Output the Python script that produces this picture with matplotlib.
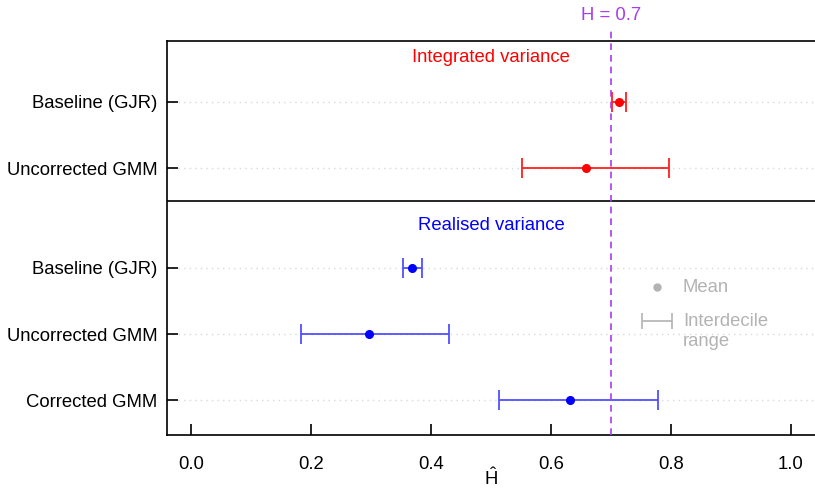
import matplotlib
matplotlib.use("Agg")
import matplotlib.pyplot as plt

plt.rcParams['font.family'] = ['Liberation Sans', 'DejaVu Sans']
plt.rcParams['mathtext.fontset'] = 'custom'
plt.rcParams['mathtext.rm'] = 'Liberation Sans'
plt.rcParams['mathtext.it'] = 'Liberation Sans'

# Data
iv_labels = ["Baseline (GJR)", "Uncorrected GMM"]
iv_mean = [0.714, 0.658]
iv_lo = [0.702, 0.551]
iv_hi = [0.725, 0.797]
iv_pos = [5.5, 4.5]

rv_labels = ["Baseline (GJR)", "Uncorrected GMM", "Corrected GMM"]
rv_mean = [0.369, 0.297, 0.632]
rv_lo = [0.354, 0.183, 0.514]
rv_hi = [0.385, 0.430, 0.779]
rv_pos = [3, 2, 1]

true_h = 0.7
xticks = [0.0, 0.2, 0.4, 0.6, 0.8, 1.0]

fig = plt.figure(figsize=(8.15, 4.88), dpi=100)
ax = fig.add_axes([167/815, 1-435/488, 1-167/815, (435-41)/488])
ax.set_xlim(-0.04, 1.04)
ax.set_ylim(0.477, 6.42)

FS = 13.3
grey = '#b3b3b3'

# grid lines
for y in iv_pos + rv_pos:
    ax.axhline(y, color='#d9d9d9', lw=1, ls=(0, (1, 3)), zorder=0)

def draw(means, lo, hi, pos, col, barcol):
    for m, l, h, y in zip(means, lo, hi, pos):
        ax.errorbar([m], [y], xerr=[[m - l], [h - m]], fmt='none', ecolor=barcol,
                    elinewidth=1.3, capsize=7, capthick=1.3, zorder=3)
        ax.plot([m], [y], 'o', color=col, ms=5.5, zorder=4)

draw(iv_mean, iv_lo, iv_hi, iv_pos, '#ff0000', '#ff2020')
draw(rv_mean, rv_lo, rv_hi, rv_pos, '#0000ff', '#5050ff')

# divider
ax.axhline(4.0, color='black', lw=1.2, zorder=2)

# H line
ax.plot([true_h, true_h], [0.477, 6.58], color='#a83cf0', lw=1.2, ls=(0, (4, 3)),
        clip_on=False, zorder=5)
ax.text(true_h, 6.81, "H = 0.7", color='#a83cf0', fontsize=FS, ha='center', va='center')

ax.text(0.5, 6.17, "Integrated variance", color='#ff0000', fontsize=FS, ha='center', va='center')
ax.text(0.5, 3.64, "Realised variance", color='#0000ff', fontsize=FS, ha='center', va='center')

# legend
ax.plot([0.777], [2.709], 'o', color=grey, ms=5)
ax.text(0.82, 2.709, "Mean", color=grey, fontsize=FS, ha='left', va='center')
ax.errorbar([0.777], [2.196], xerr=[[0.025], [0.025]], fmt='none', ecolor=grey,
            elinewidth=1.2, capsize=6, capthick=1.2)
ax.text(0.82, 2.196, "Interdecile", color=grey, fontsize=FS, ha='left', va='center')
ax.text(0.82, 2.196 - 20/66.3, "range", color=grey, fontsize=FS, ha='left', va='center')

# axes
ax.set_yticks(iv_pos + rv_pos)
ax.set_yticklabels(iv_labels + rv_labels, fontsize=FS)
ax.set_xticks(xticks)
ax.set_xticklabels([f"{v:.1f}" for v in xticks], fontsize=FS)
ax.tick_params(axis='both', direction='in', length=8, width=1.2)
ax.tick_params(axis='x', pad=15)
ax.tick_params(axis='y', pad=7)
for s in ['left', 'bottom', 'top']:
    ax.spines[s].set_linewidth(1.2)
ax.spines['right'].set_visible(False)
ax.set_xlabel(r"$\hat{\mathrm{H}}$", fontsize=FS, labelpad=-4)

fig.savefig("out.png", dpi=100)
